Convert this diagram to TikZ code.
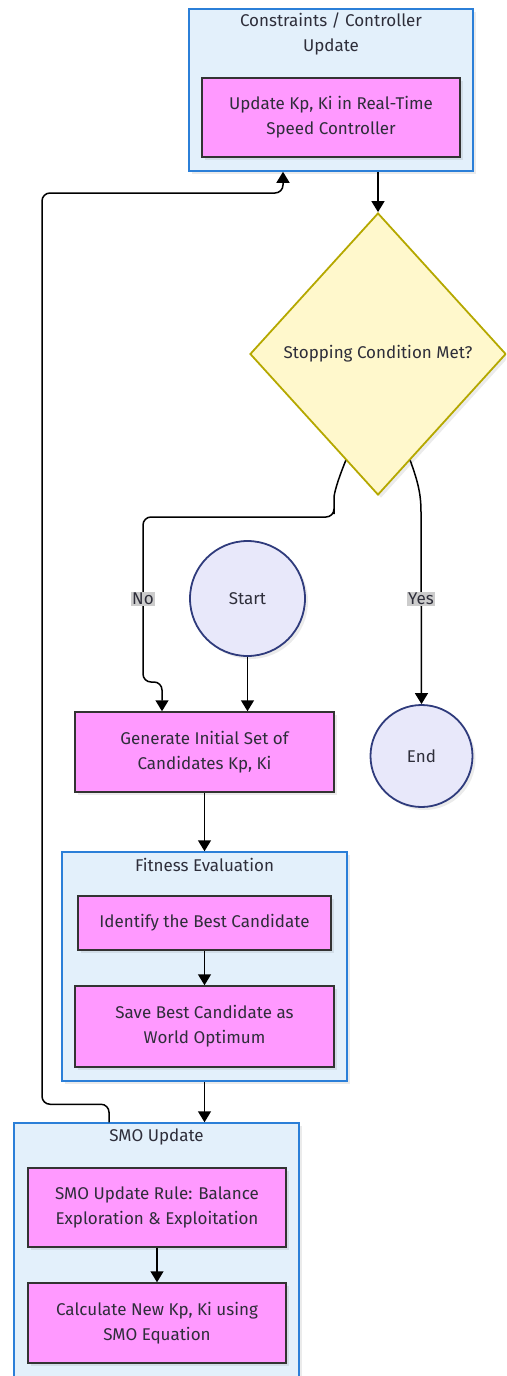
\documentclass[tikz,border=0pt]{standalone}
\usepackage{fontspec}
\setmainfont{Fira Sans}
\usetikzlibrary{positioning,arrows.meta,calc,shapes.geometric,shadows}

\definecolor{grupoFondo}{HTML}{E3F0FB}
\definecolor{grupoBorde}{HTML}{2B7FD8}
\definecolor{cajaFondo}{HTML}{FF99FF}
\definecolor{cajaBorde}{HTML}{333333}
\definecolor{decFondo}{HTML}{FFF8CC}
\definecolor{decBorde}{HTML}{B5A800}
\definecolor{circFondo}{HTML}{E8E8FA}
\definecolor{circBorde}{HTML}{2F3B7C}
\definecolor{texto}{HTML}{2E2E3A}

\begin{document}
\begin{tikzpicture}[
    x=1pt, y=-1pt,
    font=\fontsize{17}{25}\selectfont, text=texto,
    sombra/.style={drop shadow={shadow xshift=3pt, shadow yshift=-3pt, fill=black, opacity=0.08}},
    grupo/.style={draw=grupoBorde, fill=grupoFondo, line width=1.5pt, inner sep=0pt, sombra},
    titulo/.style={align=center, inner sep=0pt},
    caja/.style={draw=cajaBorde, fill=cajaFondo, line width=1.5pt, align=center,
                 inner sep=0pt, sombra},
    decision/.style={diamond, draw=decBorde, fill=decFondo, line width=1.8pt, inner sep=0pt,
                     minimum width=256pt, minimum height=282pt, sombra},
    circulo/.style={circle, draw=circBorde, fill=circFondo, line width=1.8pt, inner sep=0pt, sombra},
    flecha/.style={-{Triangle[length=11pt,width=13pt]}, line width=1.5pt},
    etiqueta/.style={fill=black!20, inner sep=1pt}
]
\clip (0,0) rectangle (506,1376);

% grupos (subgrafos)
\node[grupo, minimum width=284pt, minimum height=162pt] (ctrlC) at (331,90) {};
\node[titulo] (tituloCtrl) at (331,33.5) {Constraints / Controller\\Update};
\node[caja, minimum width=258pt, minimum height=79pt] (upd) at (331,117.5)
    {Update Kp, Ki in Real-Time\\Speed Controller};

\node[decision] (dec) at (378,354) {Stopping Condition Met?};

\node[circulo, minimum size=115pt] (start) at (247.5,598.5) {Start};
\node[circulo, minimum size=102pt] (finish) at (421.5,756) {End};

\node[caja, minimum width=259pt, minimum height=80pt] (gen) at (204.5,752)
    {Generate Initial Set of\\Candidates Kp, Ki};

\node[grupo, minimum width=285pt, minimum height=229pt] (fitC) at (204.5,966.5) {};
\node[titulo] (tituloFit) at (204.5,865) {Fitness Evaluation};
\node[caja, minimum width=253pt, minimum height=54pt] (ident) at (204.5,923)
    {Identify the Best Candidate};
\node[caja, minimum width=259pt, minimum height=81pt] (save) at (204.5,1026.5)
    {Save Best Candidate as\\World Optimum};

\node[grupo, minimum width=285pt, minimum height=262pt] (smoC) at (156.5,1254) {};
\node[titulo] (tituloSmo) at (156.5,1137) {SMO Update};
\node[caja, minimum width=258pt, minimum height=79pt] (rule) at (157,1207.5)
    {SMO Update Rule: Balance\\Exploration \& Exploitation};
\node[caja, minimum width=258pt, minimum height=80pt] (calc) at (157,1323)
    {Calculate New Kp, Ki using\\SMO Equation};

% flujo principal
\draw[flecha] (ctrlC.south -| dec.north) -- (dec.north);
\draw[flecha] (start.south) -- (start.south |- gen.north);
\draw[flecha] (gen.south) -- (fitC.north);
\draw[flecha] (ident.south) -- (save.north);
\draw[flecha] (fitC.south) -- (fitC.south |- smoC.north);
\draw[flecha] (rule.south) -- (calc.north);

% ramas de la decision
\coordinate (noIni) at ($(dec.south west)!0.5!(dec.south)$);
\coordinate (siIni) at ($(dec.south east)!0.5!(dec.south)$);
\draw[flecha, rounded corners=8pt] (noIni) .. controls (337,482) and (334,494) .. (334,506)
    -- (334,517) -- (143,517) -- (143,682) -- (162,682) -- ([xshift=-42.5pt]gen.north);
\draw[flecha] (siIni) .. controls (418,482) and (421,494) .. (421,512) -- (finish.north);
\node[etiqueta] (lblNo)  at (143,599) {No};
\node[etiqueta] (lblYes) at (421,599) {Yes};

% vuelta al controlador
\draw[flecha, rounded corners=8pt] ([xshift=-47.5pt]smoC.north) -- ++(0,-18)
    -| (42,193) -| ([xshift=-48pt]ctrlC.south);

\end{tikzpicture}
\end{document}
